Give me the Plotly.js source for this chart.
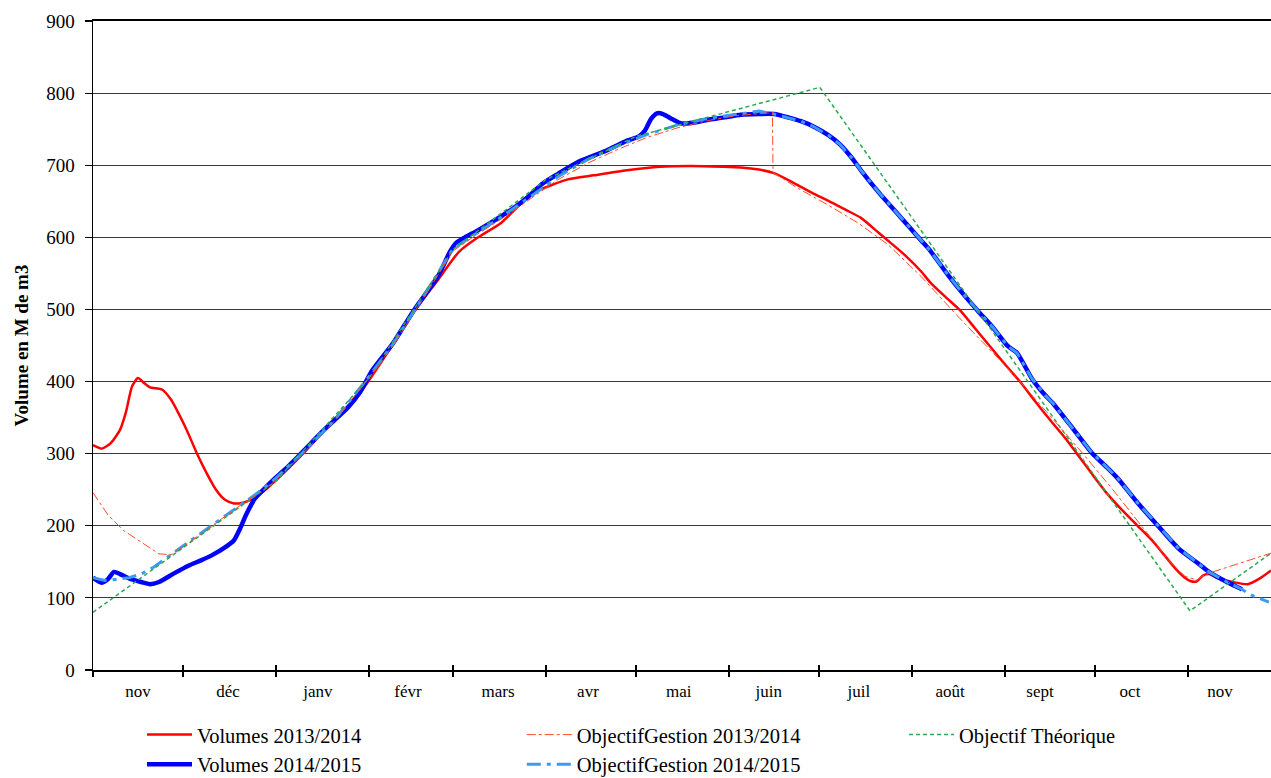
<!DOCTYPE html>
<html>
<head>
<meta charset="utf-8">
<script src="https://cdn.plot.ly/plotly-3.0.1.min.js"></script>
<style>html,body{margin:0;padding:0;background:#fff}#chart{width:1271px;height:778px}</style>
</head>
<body>
<div id="chart"></div>
<script>
// x values are day numbers counted from 1 Nov 2014 (season Nov 2014 -> Nov 2015)
const monthStarts = [0, 30, 61, 92, 120, 151, 181, 212, 242, 273, 304, 334, 365];
const monthLabelDays = [15, 45, 75, 105, 135, 165, 195.3, 225.3, 255.3, 285.7, 315.7, 345.7, 375.7];
const monthLabels = ['nov', 'déc', 'janv', 'févr', 'mars', 'avr', 'mai', 'juin', 'juil', 'août', 'sept', 'oct', 'nov'];

// Volumes 2013/2014
const vol1314Days = [0,3,6,9,11,13,15,17,19,23,26,28,31,35,38,41,44,47,50,53,56,61,70,80,89,95,100,107,115,122,128,136,145,149,158,167,178,189,199,210,216,222,227,232,236,240,245,251,256,262,266,271,276,279,284,289,294,299,304,309,314,319,324,328,333,338,343,348,353,357,361,364,366,368,370,372,375,380,385,389,392.7];
const vol1314 = [312,307,315,333,358,393,405,398,392,389,375,360,335,297,272,250,236,231,232,237,245,263,300,345,384,420,452,497,541,580,599,620,656,666,680,686,693,698,699,698,697,694,689,679,670,661,651,638,627,606,592,574,553,538,518,499,474,449,424,400,373,347,322,300,272,245,222,201,180,160,140,128,123,123,131,133,127,122,119,127,138];

// Volumes 2014/2015
const vol1415Days = [0,3,5,7,9,12,16,19,22,27,32,36,40,44,47,49,51,54,58,61,65,70,77,85,89,93,100,107,115,119,121,124,128,136,140,145,150,155,162,171,178,182,184,186,188,190,193,196,200,205,210,216,222,227,232,236,240,245,249,253,256,262,269,276,279,285,290,295,300,305,308,313,317,320,327,333,338,342,348,355,362,369,372,378,383];
const vol1415 = [128,121,126,136,133,127,122,119,122,134,145,152,160,170,180,196,215,238,255,267,282,303,333,364,385,415,453,499,546,580,592,600,609,629,640,656,675,688,705,720,734,740,748,764,772,771,764,758,759,763,766,770,771,771,766,761,754,742,729,710,693,662,629,596,582,548,522,498,475,449,440,404,383,370,333,301,281,264,233,200,168,146,136,122,112];

// ObjectifGestion 2013/2014
const og1314Days = [0,5,10,16,22,26,30,40,50,57,61,70,80,92,100,110,120,128,136,145,155,165,175,185,195,205,215,226.5,226.7,235,245,255,265,276,290,300,309,320,330,340,350,359,364,368,371,392.7];
const og1314 = [246,215,194,177,161,160,171,201,231,250,264,300,343,405,450,515,581,604,625,651,680,703,722,739,752,762,769,773,690,668,645,620,590,546,483,440,400,348,300,250,198,150,130,125,133,162];

// ObjectifGestion 2014/2015
const og1415Days = [0,4,8,12,16,20,30,40,50,57,61,70,80,92,100,110,120,128,136,145,155,165,175,185,195,205,215,222,227,232,236,240,245,249,253,256,262,269,276,279,285,290,295,300,305,308,313,317,320,327,333,338,342,348,355,362,369,372,378,383,386,392];
const og1415 = [128,124,126,128,133,142,172,202,232,252,266,302,344,407,452,517,584,606,628,654,684,708,727,743,756,765,771,775,771,766,761,754,742,729,710,693,662,629,596,582,548,522,498,475,449,440,404,383,370,333,301,281,264,233,200,168,146,136,122,112,104,94];

// Objectif Théorique
const theoDays = [0, 61, 92, 120, 151, 181, 242.3, 365.7, 392.7];
const theo = [80, 262, 405, 583, 680, 740, 808, 82, 162];

const serif = 'Liberation Serif, Times New Roman, serif';
const xEnd = 392.7;

const traces = [
  {x: theoDays, y: theo, name: 'Objectif Théorique', mode: 'lines', xaxis: 'x2',
   line: {color: '#2ea84f', width: 1.5, dash: '4px,3px'}, legend: 'legend3', legendgroup: 'g5'},
  {x: og1314Days, y: og1314, name: 'ObjectifGestion 2013/2014', mode: 'lines', xaxis: 'x3',
   line: {color: '#ff4a2a', width: 1, dash: 'dashdot'}, legend: 'legend2', legendgroup: 'g2', legendrank: 1},
  {x: vol1314Days, y: vol1314, name: 'Volumes 2013/2014', mode: 'lines',
   line: {color: '#ff0000', width: 2.5, shape: 'spline', smoothing: 0.6}, legend: 'legend', legendgroup: 'g1', legendrank: 1},
  {x: vol1415Days, y: vol1415, name: 'Volumes 2014/2015', mode: 'lines',
   line: {color: '#0000ff', width: 4.5, shape: 'spline', smoothing: 0.6}, legend: 'legend', legendgroup: 'g3', legendrank: 2},
  {x: og1415Days, y: og1415, name: 'ObjectifGestion 2014/2015', mode: 'lines',
   line: {color: '#3a9af5', width: 3, dash: '14px,6px,4px,6px'}, legend: 'legend2', legendgroup: 'g4', legendrank: 2}
];

const legendBase = {
  bgcolor: 'rgba(0,0,0,0)', borderwidth: 0, orientation: 'v',
  font: {family: serif, size: 20.5, color: '#000'},
  yanchor: 'top', xanchor: 'left', tracegroupgap: 0, itemwidth: 45
};

const layout = {
  width: 1271, height: 778,
  margin: {l: 93, r: 0, t: 21, b: 108, autoexpand: false},
  paper_bgcolor: '#fff', plot_bgcolor: '#fff',
  showlegend: true,
  xaxis: {
    range: [0, xEnd], tickmode: 'array', tickvals: monthStarts, showticklabels: false,
    ticks: 'outside', ticklen: 5, tickwidth: 1.2, tickcolor: '#000',
    showgrid: false, zeroline: false, showline: true, linecolor: '#000', linewidth: 1.8, mirror: true
  },
  xaxis2: {
    range: [0, xEnd], overlaying: 'x', anchor: 'y', side: 'bottom',
    tickmode: 'array', tickvals: monthLabelDays, ticktext: monthLabels,
    ticks: '', showgrid: false, zeroline: false, showline: false,
    tickfont: {family: serif, size: 17, color: '#000'}, ticklabelstandoff: 9
  },
  xaxis3: {
    range: [0, xEnd], overlaying: 'x', anchor: 'y', side: 'bottom',
    tickmode: 'array', tickvals: monthStarts, showticklabels: false,
    ticks: 'inside', ticklen: 5, tickwidth: 1.2, tickcolor: '#000',
    showgrid: false, zeroline: false, showline: false
  },
  yaxis: {
    range: [0, 900], tickmode: 'linear', tick0: 0, dtick: 100,
    showgrid: true, gridcolor: '#3a3a3a', gridwidth: 1.2,
    zeroline: false, showline: true, linecolor: '#000', linewidth: 1.5,
    ticks: 'outside', ticklen: 7, tickcolor: '#000', tickwidth: 1.2,
    tickfont: {family: serif, size: 19, color: '#000'}, ticklabelstandoff: 6,
    title: {text: 'Volume en M de m3', font: {family: serif, size: 19, color: '#000', weight: 'bold'}, standoff: 12}
  },
  legend: Object.assign({}, legendBase, {x: 0.0416, y: -0.069}),
  legend2: Object.assign({}, legendBase, {x: 0.364, y: -0.069}),
  legend3: Object.assign({}, legendBase, {x: 0.6885, y: -0.069})
};

Plotly.newPlot('chart', traces, layout, {displayModeBar: false, staticPlot: true});
</script>
</body>
</html>
